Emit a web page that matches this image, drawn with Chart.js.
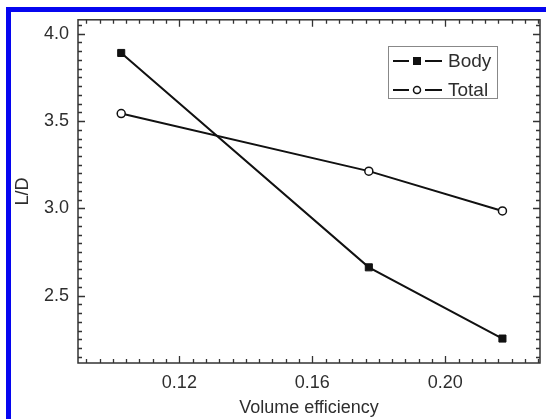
<!DOCTYPE html>
<html>
<head>
<meta charset="utf-8">
<script src="https://cdn.jsdelivr.net/npm/chart.js@4/dist/chart.umd.min.js"></script>
<style>
  html, body { margin: 0; padding: 0; background: #fff; }
  #wrap { position: relative; width: 546px; height: 419px; overflow: hidden; }
  #blue { position: absolute; left: 6px; top: 7px; right: -10px; bottom: -10px;
          border-left: 5px solid #0606f0; border-top: 5px solid #0606f0; }
  canvas { position: absolute; left: 0; top: 0; }
</style>
</head>
<body>
<div id="wrap">
  <div id="blue"></div>
  <canvas id="c" width="546" height="419"></canvas>
</div>
<script>
// ---- data ----
const volumeEfficiency = [0.1025, 0.177, 0.2172];
const bodyLD = [3.89, 2.662, 2.254];
const totalLD = [3.543, 3.213, 2.985];
const xTickValues = [0.12, 0.16, 0.20];
const yTickValues = [2.5, 3.0, 3.5, 4.0];
const seriesNames = ['Body', 'Total'];
const xTitle = 'Volume efficiency';
const yTitle = 'L/D';

const FONT = 'Liberation Sans, Arial, Helvetica, sans-serif';
const TEXT = '#2e2e2e';

const frameTicks = {
  id: 'frameTicks',
  afterDraw(chart) {
    const ctx = chart.ctx;
    const { left, right, top, bottom } = chart.chartArea;
    const xs = chart.scales.x, ys = chart.scales.y;
    ctx.save();
    ctx.strokeStyle = '#333';
    ctx.lineWidth = 1.5;
    ctx.strokeRect(left, top, right - left, bottom - top);
    ctx.lineWidth = 1.3;
    ctx.beginPath();
    for (let k = Math.ceil(xs.min / 0.004); k <= Math.floor(xs.max / 0.004); k++) {
      const px = Math.round(xs.getPixelForValue(k * 0.004)) + 0.5;
      const len = (k % 10 === 0) ? 7 : 4;
      ctx.moveTo(px, bottom); ctx.lineTo(px, bottom - len);
      ctx.moveTo(px, top); ctx.lineTo(px, top + len);
    }
    for (let k = Math.ceil(ys.min / 0.05 - 1e-9); k <= Math.floor(ys.max / 0.05 + 1e-9); k++) {
      const py = Math.round(ys.getPixelForValue(k * 0.05)) + 0.5;
      const len = (k % 10 === 0) ? 7 : 4;
      ctx.moveTo(left, py); ctx.lineTo(left + len, py);
      ctx.moveTo(right, py); ctx.lineTo(right - len, py);
    }
    ctx.stroke();
    ctx.restore();
  }
};

const boxLegend = {
  id: 'boxLegend',
  afterDraw(chart) {
    const ctx = chart.ctx;
    const bx = 388, by = 46, bw = 109, bh = 52;
    ctx.save();
    ctx.strokeStyle = '#888';
    ctx.lineWidth = 1;
    ctx.strokeRect(bx + 0.5, by + 0.5, bw, bh);
    chart.data.datasets.forEach((ds, i) => {
      const y = 61 + i * 29;
      ctx.strokeStyle = '#111';
      ctx.lineWidth = 2;
      ctx.beginPath();
      ctx.moveTo(393, y); ctx.lineTo(409, y);
      ctx.moveTo(425, y); ctx.lineTo(442, y);
      ctx.stroke();
      const mx = 417;
      if (ds.pointStyle === 'rect') {
        ctx.fillStyle = '#111';
        ctx.fillRect(mx - 4, y - 4, 8, 8);
      } else {
        ctx.fillStyle = '#fff';
        ctx.lineWidth = 1.5;
        ctx.beginPath();
        ctx.arc(mx, y, 3.5, 0, Math.PI * 2);
        ctx.fill(); ctx.stroke();
      }
      ctx.fillStyle = TEXT;
      ctx.font = '19px ' + FONT;
      ctx.textBaseline = 'middle';
      ctx.textAlign = 'left';
      ctx.fillText(ds.label, 448, y + 1);
    });
    ctx.restore();
  }
};

new Chart(document.getElementById('c'), {
  type: 'line',
  data: {
    datasets: [
      {
        label: seriesNames[0],
        data: volumeEfficiency.map((x, i) => ({ x, y: bodyLD[i] })),
        borderColor: '#111', borderWidth: 2,
        pointStyle: 'rect', pointRadius: 5, pointBackgroundColor: '#111', pointBorderColor: '#111',
        pointBorderWidth: 1, tension: 0
      },
      {
        label: seriesNames[1],
        data: volumeEfficiency.map((x, i) => ({ x, y: totalLD[i] })),
        borderColor: '#111', borderWidth: 2,
        pointStyle: 'circle', pointRadius: 4, pointBackgroundColor: '#fff', pointBorderColor: '#111',
        pointBorderWidth: 1.5, tension: 0
      }
    ]
  },
  options: {
    responsive: false,
    animation: false,
    layout: { padding: { top: 19, right: 4, left: 0, bottom: 0 } },
    plugins: { legend: { display: false }, tooltip: { enabled: false } },
    scales: {
      x: {
        type: 'linear', min: 0.0895, max: 0.2285,
        grid: { display: false, drawTicks: false },
        border: { display: false },
        afterBuildTicks: s => { s.ticks = xTickValues.map(v => ({ value: v })); },
        afterFit: s => { s.height = 56; },
        ticks: {
          padding: 9, color: TEXT, font: { family: FONT, size: 18 },
          maxRotation: 0, autoSkip: false,
          callback: v => Number(v).toFixed(2)
        },
        title: { display: true, text: xTitle, color: TEXT, font: { family: FONT, size: 18 }, padding: { top: 0, bottom: 0 } }
      },
      y: {
        type: 'linear', min: 2.114, max: 4.08,
        grid: { display: false, drawTicks: false },
        border: { display: false },
        afterBuildTicks: s => { s.ticks = yTickValues.map(v => ({ value: v })); },
        afterFit: s => { s.width = 78; },
        ticks: {
          padding: 9, color: TEXT, font: { family: FONT, size: 18 },
          autoSkip: false,
          callback: v => Number(v).toFixed(1)
        },
        title: { display: true, text: yTitle, color: TEXT, font: { family: FONT, size: 18 }, padding: { top: 12, bottom: 0 } }
      }
    }
  },
  plugins: [frameTicks, boxLegend]
});
</script>
</body>
</html>
